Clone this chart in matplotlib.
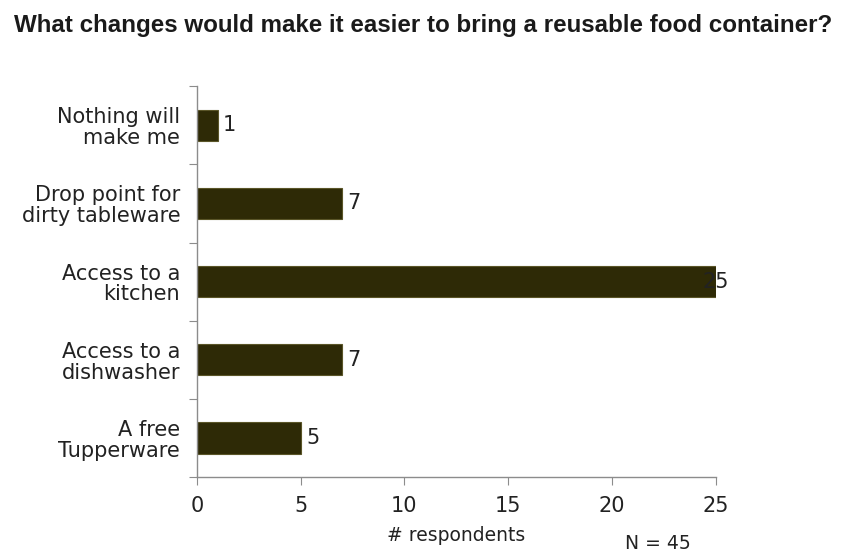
import matplotlib
matplotlib.use("Agg")
import matplotlib.pyplot as plt

# respostas da pesquisa (de cima para baixo)
categorias = [
    'Nothing will\nmake me',
    'Drop point for\ndirty tableware',
    'Access to a\nkitchen',
    'Access to a\ndishwasher',
    'A free\nTupperware',
]
respostas = [1, 7, 25, 7, 5]
total = 45

cor_barra = '#2e2a06'
cor_eixo = '#8c8c8c'
cor_texto = '#222222'

fig = plt.figure(figsize=(8.41, 5.56), dpi=100)
ax = fig.add_axes([0.234, 0.142, 0.617, 0.703])

pos = list(range(len(categorias)))
ax.barh(pos, respostas, height=0.4, color=cor_barra, edgecolor='#5a5528', linewidth=0.8)

ax.set_xlim(0, 25)
ax.set_ylim(len(categorias) - 0.5, -0.5)
ax.set_xticks(range(0, 26, 5))

# ticks do eixo y ficam nas divisas entre categorias
ax.set_yticks([p + 0.5 for p in range(-1, len(categorias))])
ax.set_yticklabels([])
ax.set_yticks(pos, minor=True)
ax.set_yticklabels(categorias, minor=True, fontsize=15, color=cor_texto, ha='right')
for t in ax.get_yticklabels(minor=True):
    t.set_linespacing(1.05)
ax.tick_params(axis='y', which='minor', length=0, pad=12)
ax.tick_params(axis='y', which='major', length=6, color=cor_eixo, direction='out')
ax.tick_params(axis='x', length=6, color=cor_eixo, labelsize=15, labelcolor=cor_texto, pad=8)

for lado in ['top', 'right']:
    ax.spines[lado].set_visible(False)
for lado in ['left', 'bottom']:
    ax.spines[lado].set_color(cor_eixo)
    ax.spines[lado].set_linewidth(1.0)

# rótulos de valor ao lado das barras
for p, v in zip(pos, respostas):
    if v >= ax.get_xlim()[1]:
        ax.text(v, p, str(v), va='center', ha='center', fontsize=15, color=cor_texto)
    else:
        ax.annotate(str(v), (v, p), xytext=(4, 0), textcoords='offset points',
                    va='center', ha='left', fontsize=15, color=cor_texto)

ax.set_xlabel('# respondents', fontsize=13.5, color=cor_texto, labelpad=7)
fig.text(0.743, 0.013, 'N = %d' % total, fontsize=13.5, color=cor_texto)

fig.text(0.503, 0.955, 'What changes would make it easier to bring a reusable food container?',
         ha='center', va='center', fontsize=17.4, fontweight='bold',
         family='Liberation Sans', color='#1a1a1a')

fig.savefig('out.png', dpi=100, facecolor='white')
